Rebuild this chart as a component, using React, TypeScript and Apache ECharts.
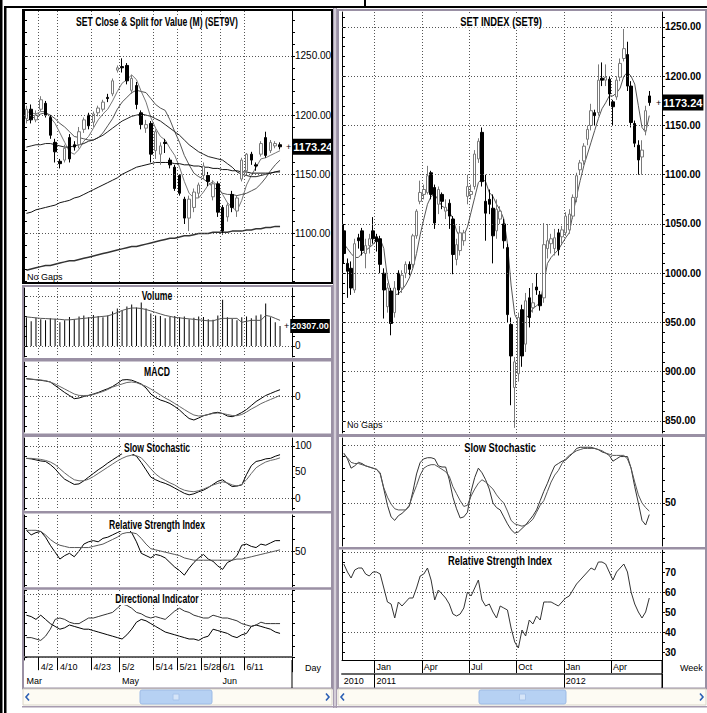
import React, { useEffect, useRef } from "react";
import * as echarts from "echarts";

const FONT = '"Liberation Sans Narrow", "Liberation Sans", Arial, sans-serif';

// ---------------- Daily (left column) ----------------
const dayDates = ["3/28","3/29","3/30","4/2","4/3","4/4","4/5","4/10","4/11","4/12","4/17","4/18","4/19","4/20","4/23","4/24","4/25","4/26","4/27","4/30","5/2","5/3","5/4","5/8","5/9","5/10","5/11","5/14","5/15","5/16","5/17","5/18","5/21","5/22","5/23","5/24","5/25","5/28","5/29","5/30","5/31","6/1","6/5","6/6","6/7","6/8","6/11","6/12","6/13","6/14","6/15","6/18","6/19","6/20"];
const dayTickDates = ["4/2","4/10","4/23","5/2","5/14","5/21","5/28","6/1","6/11"];
const dayMonthDates = ["3/28","5/2","6/1"];
const dayMonthNames = ["Mar","May","Jun"];

// [open, close, low, high]
const dayCandles = [
  [1197,1205,1193,1208],[1205,1196,1193,1209],[1196,1200,1194,1204],[1205,1213,1203,1216],[1210,1200,1198,1212],
  [1198,1183,1180,1200],[1177,1169,1160,1180],[1161,1159,1155,1163],[1162,1172,1160,1175],[1181,1163,1160,1184],
  [1175,1173,1170,1178],[1175,1186,1172,1190],[1188,1196,1185,1198],[1200,1191,1188,1202],[1194,1201,1190,1203],
  [1202,1206,1199,1208],[1205,1211,1203,1213],[1215,1214,1211,1218],[1218,1229,1216,1231],[1238,1240,1236,1242],
  [1241,1240,1236,1248],[1242,1229,1226,1244],[1221,1231,1218,1234],[1225,1209,1205,1228],[1202,1192,1188,1204],
  [1189,1192,1185,1196],[1193,1167,1160,1195],[1170,1186,1163,1188],[1167,1174,1158,1177],[1177,1176,1168,1180],
  [1162,1158,1155,1164],[1156,1138,1136,1158],[1149,1134,1132,1150],[1129,1113,1108,1131],[1113,1129,1102,1132],
  [1122,1135,1118,1138],[1134,1141,1130,1143],[1149,1157,1146,1160],[1149,1144,1140,1152],[1131,1142,1128,1145],
  [1142,1118,1114,1144],[1122,1102,1099,1124],[1114,1124,1110,1126],[1133,1122,1118,1136],[1119,1130,1114,1132],
  [1146,1162,1144,1164],[1153,1167,1150,1168],[1167,1162,1158,1169],[1158,1157,1153,1160],[1167,1176,1165,1178],
  [1181,1166,1164,1186],[1170,1177,1168,1179],[1174,1176,1172,1178],[1175,1173.24,1171,1177]
];
const dayMA5 = [1203,1202,1201,1203,1203,1198,1193,1185,1177,1169,1167,1171,1178,1182,1189,1196,1201,1205,1212,1220,1227,1230,1234,1230,1220,1211,1198,1189,1182,1179,1172,1166,1156,1144,1134,1130,1130,1135,1141,1144,1140,1133,1126,1122,1119,1128,1141,1149,1156,1163,1164,1166,1168,1170];
const dayMA10 = [1195,1197,1199,1201,1202,1200,1197,1193,1190,1186,1182,1181,1180,1179,1179,1181,1185,1191,1197,1205,1211,1215,1219,1221,1220,1219,1214,1209,1206,1204,1196,1186,1177,1166,1158,1151,1148,1146,1143,1139,1137,1134,1133,1133,1132,1133,1134,1136,1138,1142,1147,1153,1158,1162];
const dayMA25 = [1173,1174,1175,1175,1176,1176,1175,1174,1173,1173,1174,1175,1176,1178,1179,1181,1183,1186,1189,1192,1195,1197,1199,1200,1201,1200,1199,1197,1195,1192,1189,1186,1183,1179,1175,1172,1169,1167,1165,1164,1163,1162,1159,1156,1152,1150,1149,1148,1148,1149,1150,1151,1152,1153];
const dayMA75 = [1117,1118,1120,1121,1122,1123,1124,1126,1127,1128,1130,1131,1133,1135,1137,1139,1141,1143,1145,1147,1150,1152,1154,1156,1157,1158,1159,1160,1160,1160,1160,1159,1159,1158,1158,1157,1157,1156,1156,1155,1155,1154,1154,1153,1153,1152,1152,1151,1151,1151,1151,1151,1152,1152];
const dayMA200 = [1069,1070,1071,1072,1073,1073,1074,1075,1076,1077,1077,1078,1079,1080,1081,1082,1083,1084,1085,1086,1087,1088,1089,1089,1090,1091,1092,1093,1094,1095,1096,1096,1097,1098,1098,1099,1100,1100,1100,1101,1101,1101,1101,1102,1102,1102,1103,1103,1104,1104,1105,1105,1106,1106];
const dayVolume = [29000,25000,28500,27000,26000,28000,27500,24000,26000,29500,27000,30000,31000,29000,31500,30500,29000,31000,35000,38000,36000,40000,42000,39000,44000,38000,33000,31000,30500,28000,29500,30500,29000,30000,27000,28500,30000,29500,27000,26500,31000,47000,29000,27500,26000,29000,30000,28000,31000,32000,43000,29000,24000,20307];
const dayVolumeMA = [29500,29000,28500,28000,27800,27500,27200,27000,26500,26500,27000,27500,28000,28500,29000,29500,30000,30500,32000,34000,36000,37500,38500,38500,38000,37000,35500,34000,32500,31000,30000,29000,28500,28000,27500,27000,26500,26000,25500,25500,27000,28000,28000,28000,28000,24000,25000,26000,26000,26000,31000,30000,28000,26000];
const dayMACD = [17.4,16.8,16.2,15.7,15,14,10.5,7,3.5,0.5,-2.7,-2,-0.5,0.6,2,3.5,5.5,7.3,9.5,12.5,16,16.4,15.8,14,12,8,2,-1.5,-4,-5.5,-7.5,-10.5,-14,-18.5,-22.5,-24,-22,-19.7,-18.5,-17,-16.3,-17.5,-20,-20.7,-19,-16.5,-13.5,-9.5,-5.5,-2.5,0.5,2.5,4.5,6.3];
const dayMACDSignal = [17,16.8,16.5,16,15.3,14,12,9.5,7,4.5,2,0.6,0.5,0.6,1.5,3,4.5,6.5,8.9,10.5,12,13.5,14,13.3,11.5,9.7,7,4,1,-2,-4.5,-7.5,-10.5,-13.5,-16.5,-19,-20,-19.7,-18.5,-17.5,-17,-17.5,-18.5,-19.5,-19.7,-18.5,-16,-13,-10.5,-7.7,-5.5,-3.5,-1.5,0.6];
const dayStochK = [76,75,73,71,70,64,56,45,36,31,26,27,33,40,47,54,60,67,73,79,85,87,85,80,68,54,40,35,31,28,24,19,14,9,6,8,12,15,20,26,32,35,28,22,23,25,45,62,70,72,75,76,80,83];
const dayStochD = [76,76,75,74,72,69,64,56,48,41,35,33,33,36,41,47,53,59,65,71,76,80,82,81,77,67,56,46,39,34,29,25,19,15,13,12,14,17,21,25,28,31,29,25,23,26,35,47,58,64,69,72,74,77];
const dayRSI = [68,64,66,67,62,55,49,43,46,48,45,50,56,58,59,58,61,62,64,66,68,70,66,58,48,46,44,47,46,44,40,36,33,29,35,40,44,47,43,41,37,34,40,42,46,55,56,54,53,56,55,57,59,59];
const dayRSIAvg = [68,68,68,67,64,60,57,55,54,53,53,53,53,53,54,55,56,58,60,62,65,66,66,65,61,56,52,51,50,49,48,47,46,44,43,42,42,42,42,42,42,42,42,42,43,43,44,45,46,47,48,49,50,51];
const dayDIMinus = [30,29,27,30,27,24,22,20,21,23,22,21,20,20,19,18,17,16,15,14,13,16,20,25,27,26,24,22,20,18,17,16,15,14,13,13,12,14,15,20,19,18,17,15,14,16,17,22,23,22,21,20,18,17];
const dayDIPlus = [14,14,13,12,15,20,27,28,27,25,24,24,26,28,28,29,30,31,32,35,38,37,35,32,31,29,28,29,28,27,30,33,35,33,32,30,29,28,28,30,29,28,28,27,26,24,23,22,23,25,24,24,24,24];

// ---------------- Weekly (right column) ----------------
const weekDates = [
  "2010-11-01","2010-11-08","2010-11-15","2010-11-22","2010-11-29","2010-12-06","2010-12-13","2010-12-20","2010-12-27",
  "2011-01-03","2011-01-10","2011-01-17","2011-01-24","2011-01-31","2011-02-07","2011-02-14","2011-02-21","2011-02-28","2011-03-07","2011-03-14","2011-03-21","2011-03-28",
  "2011-04-04","2011-04-11","2011-04-18","2011-04-25","2011-05-02","2011-05-09","2011-05-16","2011-05-23","2011-05-30","2011-06-06","2011-06-13","2011-06-20","2011-06-27",
  "2011-07-04","2011-07-11","2011-07-18","2011-07-25","2011-08-01","2011-08-08","2011-08-15","2011-08-22","2011-08-29","2011-09-05","2011-09-12","2011-09-19","2011-09-26",
  "2011-10-03","2011-10-10","2011-10-17","2011-10-24","2011-10-31","2011-11-07","2011-11-14","2011-11-21","2011-11-28","2011-12-05","2011-12-12","2011-12-19","2011-12-26",
  "2012-01-02","2012-01-09","2012-01-16","2012-01-23","2012-01-30","2012-02-06","2012-02-13","2012-02-20","2012-02-27","2012-03-05","2012-03-12","2012-03-19","2012-03-26",
  "2012-04-02","2012-04-09","2012-04-16","2012-04-23","2012-04-30","2012-05-07","2012-05-14","2012-05-21","2012-05-28","2012-06-04","2012-06-11"
];
const monthShort = ["Jan","Feb","Mar","Apr","May","Jun","Jul","Aug","Sep","Oct","Nov","Dec"];
const weekCandles = [
  [1043,1020,1010,1050],[1010,1002,975,1015],[1005,985,978,1012],[983,1030,980,1035],[1036,1033,1025,1040],
  [1043,1023,1018,1046],[1020,1028,1005,1035],[1028,1035,1020,1040],[1043,1035,1030,1057],[1037,1032,1022,1040],
  [1035,1009,1000,1038],[1000,983,954,1005],[966,985,960,990],[982,949,937,985],[960,985,955,992],
  [1000,983,978,1003],[985,998,980,1003],[1000,1009,995,1012],[1009,1004,998,1012],[1009,1038,1005,1040],
  [1038,1063,1035,1065],[1073,1082,1070,1094],[1080,1085,1075,1090],[1082,1099,1080,1109],[1102,1080,1075,1104],
  [1087,1051,1045,1090],[1070,1085,1060,1088],[1080,1073,1065,1082],[1063,1067,1055,1075],[1071,1058,1045,1075],
  [1055,1019,999,1058],[1014,1029,1008,1035],[1023,1041,1018,1048],[1033,1041,1028,1044],[1078,1088,1070,1100],
  [1080,1083,1075,1090],[1088,1121,1085,1125],[1116,1134,1112,1137],[1143,1093,1088,1148],[1073,1061,1033,1100],
  [1075,1070,1060,1085],[1066,1038,1010,1080],[1043,1065,1035,1075],[1055,1063,1050,1068],[1050,1033,1025,1055],
  [1026,958,950,1030],[948,916,866,955],[884,910,843,915],[898,955,890,960],[963,916,905,968],
  [928,972,920,980],[975,955,945,985],[965,970,960,990],[986,983,978,1000],[978,967,962,982],
  [975,1029,970,1051],[1025,1033,1015,1050],[1030,1035,1020,1040],[1025,1036,1018,1045],[1041,1024,1018,1045],
  [1037,1044,1030,1048],[1041,1058,1038,1062],[1044,1060,1040,1065],[1058,1077,1055,1080],[1077,1099,1072,1102],
  [1105,1112,1100,1115],[1114,1129,1110,1132],[1136,1146,1130,1150],[1150,1165,1145,1172],[1163,1160,1150,1166],
  [1163,1196,1160,1212],[1198,1196,1190,1214],[1196,1199,1190,1212],[1197,1182,1170,1200],[1174,1169,1150,1176],
  [1179,1196,1176,1200],[1199,1213,1195,1218],[1218,1228,1215,1248],[1222,1190,1185,1235],[1190,1153,1148,1195],
  [1152,1132,1128,1155],[1130,1115,1100,1135],[1118,1125,1100,1135],[1145,1165,1140,1170],[1180,1173.24,1170,1185]
];
const weekMA = [1030,1025,1020,1016,1016,1020,1023,1026,1029,1034,1035,1025,995,980,978,979,983,988,995,1005,1020,1039,1055,1070,1078,1080,1074,1068,1066,1062,1056,1043,1036,1038,1047,1062,1077,1092,1096,1093,1082,1078,1070,1064,1055,1030,988,958,951,950,954,958,964,967,970,990,1010,1016,1020,1024,1030,1036,1041,1060,1078,1094,1109,1121,1133,1145,1157,1167,1173,1180,1180,1183,1188,1200,1204,1200,1192,1170,1148,1143,1160];
const weekStochK = [93,88,80,82,85,84,82,81,80,79,76,62,48,38,35,39,41,44,47,60,75,85,88,89,89,88,82,81,81,70,55,45,37,38,42,60,72,80,76,70,62,50,46,44,38,32,27,24,25,28,31,35,39,44,52,60,67,75,82,84,86,87,90,93,97,98,98,98,98,97,96,94,93,91,86,88,90,90,90,80,64,50,35,31,40];
const weekStochD = [92,89,85,84,84,83,82,81,80,79,75,63,55,49,45,44,44,44,48,57,65,74,80,82,83,83,81,79,77,73,64,58,52,47,48,56,62,67,70,68,65,62,57,53,50,43,35,32,31,30,31,33,36,42,48,52,60,68,74,78,84,88,91,93,95,96,97,97,97,97,96,95,93,92,91,91,91,91,88,80,68,57,50,46,43];
const weekRSI = [74,70,67,71,72,72,69,68,70,70,69,62,55,54,47,55,53,55,57,57,62,68,69,72,66,56,61,59,57,54,49,48,49,52,60,58,62,66,56,53,54,50,47,53,52,51,42,35,32,41,38,46,44,48,46,55,55,55,54,53,55,57,58,61,64,66,68,70,72,71,75,75,74,70,66,70,72,74,70,60,54,50,47,50,57];

const lastClose = 1173.24;
const lastVolume = 20307;

// ---------------- helpers ----------------
const dayCats = [...dayDates, " ", "  "];
const weekCats = [...weekDates, " ", "  ", "   "];

const isQuarterStart = (i: number) => {
  const d = weekCats[i];
  if (!d || d.trim() === "" || i === 0) return false;
  const m = d.slice(5, 7);
  const pm = weekCats[i - 1].slice(5, 7);
  return ["01", "04", "07", "10"].includes(m) && m !== pm;
};
const isYearStart = (i: number) => {
  const d = weekCats[i];
  if (!d || d.trim() === "" || i === 0) return false;
  return d.slice(0, 4) !== weekCats[i - 1].slice(0, 4);
};

const ticksFrom = (min: number, max: number, step: number) => {
  const out: number[] = [];
  for (let v = Math.ceil(min / step) * step; v <= max + 1e-9; v += step) out.push(+v.toFixed(4));
  return out;
};

const LG = { left: 24, width: 268 };
const RG = { left: 342, width: 320 };
const gridDefs = [
  { ...LG, top: 11, height: 271 },
  { ...LG, top: 288, height: 69 },
  { ...LG, top: 362, height: 70 },
  { ...LG, top: 438, height: 72 },
  { ...LG, top: 515, height: 72 },
  { ...LG, top: 590, height: 70 },
  { ...RG, top: 12, height: 421 },
  { ...RG, top: 438, height: 108 },
  { ...RG, top: 550, height: 110 },
];
const yDefs = [
  { min: 1059, max: 1288, labels: [1100, 1150, 1200, 1250], dec: 2, step: 10, lines: [1100, 1150, 1200, 1250], bold: false },
  { min: -11200, max: 58800, labels: [0], dec: 0, step: 10000, lines: [0, 50000], bold: false },
  { min: -36, max: 34, labels: [0], dec: 0, step: 10, lines: [0], bold: false },
  { min: -23, max: 115, labels: [0, 50, 100], dec: 0, step: 20, lines: [0, 100], bold: false },
  { min: 18.7, max: 81.3, labels: [50], dec: 0, step: 10, lines: [50], bold: false },
  { min: -2, max: 48, labels: [], dec: 0, step: 8, lines: [0, 45], bold: false },
  { min: 837.8, max: 1265.2, labels: [850, 900, 950, 1000, 1050, 1100, 1150, 1200, 1250], dec: 2, step: 10, lines: [850, 900, 950, 1000, 1050, 1100, 1150, 1200, 1250], bold: true },
  { min: 12.9, max: 106, labels: [50], dec: 0, step: 10, lines: [50, 100], bold: true },
  { min: 26, max: 81, labels: [30, 40, 50, 60, 70], dec: 0, step: 5, lines: [40, 60, 80], bold: true },
];

const dotted = { type: [1, 2] as any, color: "#555", width: 1 };

function buildOption() {
  const xAxis: any[] = [];
  const yAxis: any[] = [];
  gridDefs.forEach((g, gi) => {
    const left = gi < 6;
    const cats = left ? dayCats : weekCats;
    const splitFn = left
      ? (_i: number, v: string) => dayTickDates.includes(v)
      : (i: number) => isQuarterStart(i);
    const bottom = gi === 5 || gi === 8;
    xAxis.push({
      type: "category",
      gridIndex: gi,
      data: cats,
      boundaryGap: true,
      position: "bottom",
      axisLine: { show: bottom, lineStyle: { color: "#000", width: 1 } },
      axisTick: { show: bottom, interval: splitFn, length: 13, lineStyle: { color: "#000" } },
      axisLabel: {
        show: bottom,
        interval: splitFn,
        formatter: left ? (v: string) => v : (v: string) => (v.trim() ? monthShort[+v.slice(5, 7) - 1] : ""),
        align: "left",
        margin: 2,
        fontSize: 9,
        fontFamily: FONT,
        color: "#000",
      },
      splitLine: { show: true, interval: splitFn, lineStyle: dotted },
    });
    const yd = yDefs[gi];
    const ticks = ticksFrom(yd.min, yd.max, yd.step);
    yAxis.push({
      type: "value",
      gridIndex: gi,
      position: "right",
      min: yd.min,
      max: yd.max,
      axisLine: { show: true, lineStyle: { color: "#000", width: 1 } },
      axisTick: { show: true, length: 3, customValues: ticks, lineStyle: { color: "#000" } },
      axisLabel: {
        show: yd.labels.length > 0,
        customValues: yd.labels,
        formatter: (v: number) => v.toFixed(yd.dec),
        margin: 3,
        fontSize: 10,
        fontWeight: yd.bold ? "bold" : "normal",
        fontFamily: FONT,
        color: "#000",
      },
      splitLine: { show: false },
    });
    yAxis.push({
      type: "value",
      gridIndex: gi,
      position: "left",
      min: yd.min,
      max: yd.max,
      axisLine: { show: true, lineStyle: { color: "#000", width: 1 } },
      axisTick: { show: true, inside: true, length: 3, customValues: ticks, lineStyle: { color: "#000" } },
      axisLabel: { show: false },
      splitLine: { show: false },
    });
  });
  // month row under the daily chart
  xAxis.push({
    type: "category",
    gridIndex: 5,
    data: dayCats,
    boundaryGap: true,
    position: "bottom",
    offset: 14,
    axisLine: { show: true, lineStyle: { color: "#666", width: 2 } },
    axisTick: { show: true, interval: (_i: number, v: string) => dayMonthDates.includes(v) && v !== dayMonthDates[0], length: 15, lineStyle: { color: "#000" } },
    axisLabel: {
      show: true,
      interval: (_i: number, v: string) => dayMonthDates.includes(v),
      formatter: (v: string) => dayMonthNames[dayMonthDates.indexOf(v)] || "",
      align: "left",
      margin: 2,
      fontSize: 9,
      fontFamily: FONT,
      color: "#000",
    },
    splitLine: { show: false },
  });
  // year row under the weekly chart
  xAxis.push({
    type: "category",
    gridIndex: 8,
    data: weekCats,
    boundaryGap: true,
    position: "bottom",
    offset: 14,
    axisLine: { show: true, lineStyle: { color: "#666", width: 2 } },
    axisTick: { show: true, interval: (i: number) => isYearStart(i), length: 15, lineStyle: { color: "#000" } },
    axisLabel: {
      show: true,
      interval: (i: number) => i === 0 || isYearStart(i),
      formatter: (v: string) => v.slice(0, 4),
      align: "left",
      margin: 2,
      fontSize: 9,
      fontFamily: FONT,
      color: "#000",
    },
    splitLine: { show: false },
  });

  const gridLines = (gi: number) => yDefs[gi].lines.map((v) => ({ yAxis: v, lineStyle: dotted, label: { show: false } }));
  const valueTag = (v: number, txt: string, size: number, dist: number) => ({
    yAxis: v,
    lineStyle: { color: "rgba(0,0,0,0)", width: 0 },
    label: {
      show: true,
      position: "end",
      distance: dist,
      formatter: "{p|+}{b|" + txt + "}",
      rich: {
        p: { color: "#000", fontSize: 9, padding: [0, 1, 0, 0], fontFamily: FONT },
        b: { color: "#fff", backgroundColor: "#000", fontSize: size, fontWeight: "bold", fontFamily: FONT, padding: [3, 1, 2, 1] },
      },
    },
  });
  const mk = (data: any[]) => ({ silent: true, symbol: ["none", "none"], animation: false, label: { show: false }, data });
  const line = (gi: number, data: number[], color: string, width = 1) => ({
    type: "line",
    xAxisIndex: gi,
    yAxisIndex: gi * 2,
    data,
    symbol: "none",
    showSymbol: false,
    silent: true,
    lineStyle: { color, width },
    z: 3,
  });

  const candleStyle = { color: "#fff", color0: "#000", borderColor: "#7a7a7a", borderColor0: "#000", borderWidth: 1 };

  const series: any[] = [
    {
      type: "candlestick",
      xAxisIndex: 0,
      yAxisIndex: 0,
      data: dayCandles,
      barWidth: 3,
      itemStyle: candleStyle,
      silent: true,
      z: 4,
      markLine: mk([...gridLines(0), valueTag(lastClose, lastClose.toFixed(2), 11, -6)]),
    },
    line(0, dayMA5, "#777"),
    line(0, dayMA10, "#555"),
    line(0, dayMA25, "#222"),
    line(0, dayMA75, "#111"),
    line(0, dayMA200, "#333", 1.5),
    {
      type: "bar",
      xAxisIndex: 1,
      yAxisIndex: 2,
      data: dayVolume,
      barWidth: 1,
      itemStyle: { color: "#000" },
      silent: true,
      markLine: mk([...gridLines(1), valueTag(lastVolume, lastVolume.toFixed(2), 9, -8)]),
    },
    line(1, dayVolumeMA, "#555"),
    { ...line(2, dayMACD, "#000"), markLine: mk(gridLines(2)) },
    line(2, dayMACDSignal, "#666"),
    { ...line(3, dayStochK, "#000"), markLine: mk(gridLines(3)) },
    line(3, dayStochD, "#666"),
    { ...line(4, dayRSI, "#000"), markLine: mk(gridLines(4)) },
    line(4, dayRSIAvg, "#555"),
    { ...line(5, dayDIMinus, "#000"), markLine: mk(gridLines(5)) },
    line(5, dayDIPlus, "#333"),
    {
      type: "candlestick",
      xAxisIndex: 6,
      yAxisIndex: 12,
      data: weekCandles,
      barWidth: 3,
      itemStyle: candleStyle,
      silent: true,
      z: 4,
      markLine: mk([...gridLines(6), valueTag(lastClose, lastClose.toFixed(2), 11, -6)]),
    },
    line(6, weekMA, "#555"),
    { ...line(7, weekStochK, "#333"), markLine: mk(gridLines(7)) },
    line(7, weekStochD, "#555"),
    { ...line(8, weekRSI, "#333"), markLine: mk(gridLines(8)) },
  ];

  const frame = (x: number, y: number, w: number, h: number, color = "#9a90a4", lw = 2) => ({
    type: "rect",
    silent: true,
    z: 50,
    shape: { x, y, width: w, height: h },
    style: { fill: "none", stroke: color, lineWidth: lw },
  });
  const title = (x: number, y: number, t: string, size: number) => ({
    type: "text",
    silent: true,
    z: 60,
    x,
    y,
    scaleX: 0.72,
    style: {
      text: t,
      fill: "#000",
      fontSize: size,
      fontWeight: "bold",
      fontFamily: FONT,
      align: "center",
      verticalAlign: "middle",
      backgroundColor: "#fff",
      padding: [0, 3],
    },
  });
  const note = (x: number, y: number, t: string, size: number) => ({
    type: "text",
    silent: true,
    z: 60,
    x,
    y,
    style: { text: t, fill: "#000", fontSize: size, fontFamily: FONT, align: "left", verticalAlign: "middle" },
  });
  const rect = (x: number, y: number, w: number, h: number, fill: string, stroke = "none", r = 0) => ({
    type: "rect",
    silent: true,
    z: 55,
    shape: { x, y, width: w, height: h, r },
    style: { fill, stroke, lineWidth: 1 },
  });
  const chevron = (pts: number[][]) => ({
    type: "polyline",
    silent: true,
    z: 58,
    shape: { points: pts },
    style: { fill: "none", stroke: "#2b5fb4", lineWidth: 1.6 },
  });
  const scrollbar = (x: number, w: number, tx: number, tw: number) => [
    rect(x, 689, w, 16, "#fdfbf3", "#d9d5c8"),
    chevron([[x + 6, 693.5], [x + 3, 697], [x + 6, 700.5]]),
    chevron([[x + w - 6, 693.5], [x + w - 3, 697], [x + w - 6, 700.5]]),
    rect(tx, 690, tw, 14, "#b6d1f3", "#9dbbe6", 2),
    rect(tx + tw / 2 - 3, 694, 6, 6, "#d6e5f8", "#a8c4ea"),
  ];

  const graphic: any[] = [
    rect(0, 0, 2.5, 713, "#000"),
    rect(4, 6, 2.5, 707, "#000"),
    rect(4, 6, 703, 2, "#000"),
    rect(364, 0, 2, 7, "#000"),
    rect(333, 8, 1.5, 700, "#a79cb0"),
    rect(335.5, 8, 1.5, 700, "#a79cb0"),
    frame(23, 10, 309, 273, "#000", 2),
    frame(23, 286, 309, 73),
    frame(23, 360.5, 309, 74),
    frame(23, 436, 309, 76),
    frame(23, 512.5, 309, 76),
    frame(23, 588.5, 309, 100),
    frame(338, 10, 368, 425),
    frame(338, 436, 368, 112),
    frame(338, 548.5, 368, 140),
    rect(291.5, 660, 1, 28, "#000"),
    rect(661.5, 660, 1, 28, "#000"),
    title(157, 22, "SET Close & Split for Value (M) (SET9V)", 12),
    title(157, 296, "Volume", 12),
    title(157, 372, "MACD", 12),
    title(157, 448, "Slow Stochastic", 12),
    title(157, 525, "Relative Strength Index", 12),
    title(157, 599, "Directional Indicator", 12),
    title(501, 21, "SET INDEX (SET9)", 13),
    title(500, 447, "Slow Stochastic", 13),
    title(500, 560, "Relative Strength Index", 13),
    note(27, 277, "No Gaps", 9),
    note(347, 425, "No Gaps", 9),
    note(305, 668, "Day", 9),
    note(680, 668, "Week", 9),
    ...scrollbar(23, 309, 140, 72),
    ...scrollbar(338, 368, 479, 87),
    rect(22, 706, 685, 1.5, "#a79cb0"),
  ];

  return {
    animation: false,
    backgroundColor: "#fff",
    textStyle: { fontFamily: FONT },
    grid: gridDefs.map((g) => ({ ...g, containLabel: false })),
    xAxis,
    yAxis,
    series,
    graphic,
  };
}

export default function App() {
  const ref = useRef<HTMLDivElement>(null);
  useEffect(() => {
    if (!ref.current) return;
    const chart = echarts.init(ref.current, undefined, { renderer: "svg" });
    chart.setOption(buildOption() as any);
    return () => chart.dispose();
  }, []);
  return (
    <div
      ref={ref}
      style={{ position: "fixed", left: 0, top: 0, width: 707, height: 713, background: "#fff" }}
    />
  );
}
